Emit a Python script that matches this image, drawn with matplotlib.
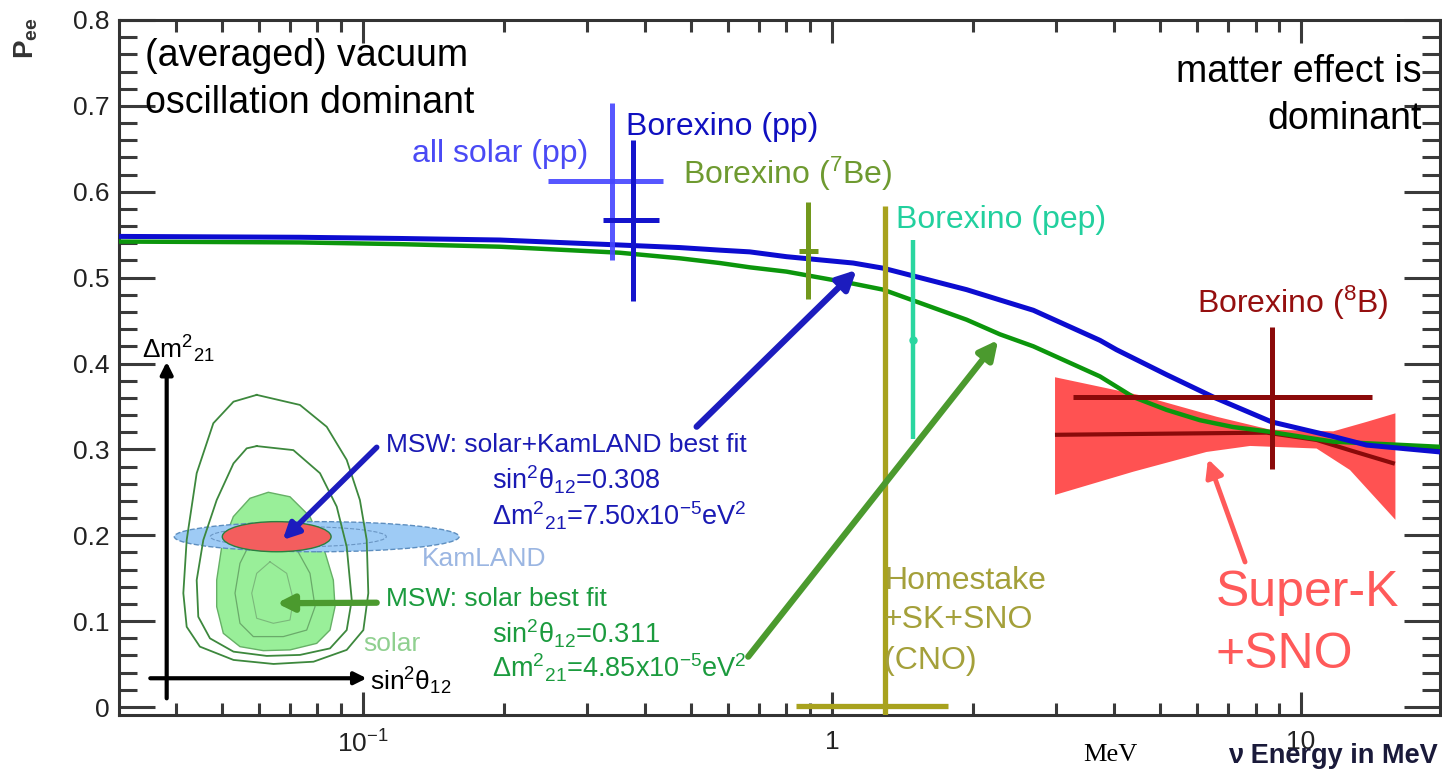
import numpy as np
import matplotlib
matplotlib.use('Agg')
import matplotlib.pyplot as plt
from matplotlib.patches import Ellipse
from matplotlib.ticker import LogLocator, MultipleLocator, NullFormatter

plt.rcParams['font.family'] = ['Liberation Sans', 'DejaVu Sans']
plt.rcParams['mathtext.fontset'] = 'custom'
plt.rcParams['mathtext.rm'] = 'Liberation Sans'
plt.rcParams['mathtext.it'] = 'Liberation Sans:italic'
plt.rcParams['mathtext.bf'] = 'Liberation Sans:bold'
plt.rcParams['mathtext.default'] = 'regular'

W, H = 1442, 779

# MSW curves, energy in MeV vs P_ee
E_KAM = [0.0302, 0.0734, 0.12, 0.196, 0.353, 0.474, 0.577, 0.668, 0.8, 1.11, 1.286,
         1.937, 2.281, 2.688, 3.727, 4.045, 5.17, 6.50, 8.66, 11.72, 13.8, 19.8]
P_KAM = [0.548, 0.547, 0.5456, 0.5438, 0.538, 0.535, 0.532, 0.530, 0.5244, 0.517, 0.511,
         0.486, 0.474, 0.462, 0.427, 0.416, 0.387, 0.361, 0.332, 0.315, 0.305, 0.297]
E_SOL = [0.0302, 0.0734, 0.12, 0.196, 0.353, 0.474, 0.577, 0.668, 0.8, 1.11, 1.286,
         1.937, 2.281, 2.688, 3.727, 4.39, 5.17, 6.09, 7.17, 8.45, 11.72, 19.8]
P_SOL = [0.542, 0.541, 0.539, 0.536, 0.529, 0.5225, 0.517, 0.512, 0.507, 0.493, 0.486,
         0.451, 0.434, 0.420, 0.385, 0.361, 0.346, 0.334, 0.326, 0.321, 0.309, 0.303]

# measurements: [low, centre, high]
ALLSOLAR_E = [0.248, 0.340, 0.436]
ALLSOLAR_P = [0.520, 0.612, 0.703]
BXPP_E = [0.325, 0.377, 0.427]
BXPP_P = [0.473, 0.567, 0.660]
BX7BE_E = [0.850, 0.889, 0.932]
BX7BE_P = [0.475, 0.531, 0.588]
HOME_E = [0.838, 1.297, 1.770]
HOME_P = [-0.02, 0.001, 0.583]
PEP_E = [1.486, 1.486, 1.486]
PEP_P = [0.312, 0.427, 0.544]
B8_E = [3.26, 8.66, 14.15]
B8_P = [0.277, 0.361, 0.443]

# Super-K + SNO band
SK_UP_E = [2.99, 4.54, 6.61, 8.59, 11.72, 13.8, 15.9]
SK_UP_P = [0.384, 0.363, 0.338, 0.323, 0.321, 0.332, 0.342]
SK_LO_E = [2.99, 4.39, 6.29, 7.79, 10.8, 12.72, 15.9]
SK_LO_P = [0.247, 0.274, 0.297, 0.304, 0.301, 0.276, 0.218]
SK_MID_E = [3.02, 8.45, 10.8, 12.72, 15.7]
SK_MID_P = [0.317, 0.3195, 0.311, 0.299, 0.284]

Y_TICKS = [0, 0.1, 0.2, 0.3, 0.4, 0.5, 0.6, 0.7, 0.8]
Y_LABELS = ['0', '0.1', '0.2', '0.3', '0.4', '0.5', '0.6', '0.7', '0.8']
X_TICKS = [0.1, 1, 10]
X_LABELS = ['10$^{-1}$', '1', '10']

# inset: sin^2 theta12 vs dm^2_21 (1e-5 eV^2)
OUT_S = [0.283, 0.337, 0.3705, 0.3955, 0.412, 0.4205, 0.4225, 0.4163, 0.3955, 0.354,
         0.304, 0.254, 0.212, 0.1955, 0.1913, 0.1955, 0.208, 0.2288, 0.254]
OUT_D = [13.15, 12.75, 11.88, 10.56, 8.96, 7.37, 5.25, 3.78, 2.99, 2.52,
         2.43, 2.59, 3.12, 3.91, 5.25, 7.37, 10.03, 12.02, 12.88]
MID_S = [0.283, 0.3288, 0.3621, 0.383, 0.3955, 0.4018, 0.3955, 0.3746, 0.3371, 0.2955,
         0.254, 0.2246, 0.210, 0.208, 0.2163, 0.233, 0.254, 0.2705]
MID_D = [11.11, 10.95, 10.03, 8.70, 7.10, 4.98, 3.78, 3.05, 2.79, 2.75,
         2.92, 3.45, 4.31, 5.77, 7.37, 8.96, 10.42, 11.02]
FILL_S = [0.2975, 0.3246, 0.3496, 0.3663, 0.3788, 0.3809, 0.3746, 0.358, 0.3246,
          0.2913, 0.2621, 0.2413, 0.233, 0.233, 0.2393, 0.2538, 0.2746]
FILL_D = [9.27, 9.09, 8.30, 7.10, 5.77, 4.71, 3.78, 3.25, 2.99,
          2.96, 3.12, 3.65, 4.71, 5.77, 7.10, 8.30, 9.03]
IN1_S = [0.2913, 0.3288, 0.3496, 0.3559, 0.3455, 0.3163, 0.2788, 0.2621, 0.2559, 0.2621, 0.2746]
IN1_D = [7.64, 7.24, 6.04, 4.71, 3.78, 3.52, 3.52, 4.05, 5.25, 6.44, 7.24]
IN2_S = [0.2996, 0.3205, 0.3288, 0.3246, 0.3038, 0.283, 0.2768, 0.283]
IN2_D = [6.50, 6.04, 4.98, 4.18, 4.05, 4.25, 5.25, 6.04]
KAM_FIT = (0.358, 7.5, 0.356, 1.2)
RED_FIT = (0.308, 7.5, 0.136, 1.2)


def px(x, y):
    return x / W, 1 - y / H


def cross(ax, E, P, color, lw, ms=0, alpha=1.0):
    ax.errorbar([E[1]], [P[1]],
                xerr=[[E[1] - E[0]], [E[2] - E[1]]],
                yerr=[[P[1] - P[0]], [P[2] - P[1]]],
                fmt='o' if ms else 'none', ms=ms, color=color, ecolor=color,
                elinewidth=lw, capsize=0, alpha=alpha, zorder=4)


fig = plt.figure(figsize=(W / 100, H / 100), dpi=100)
ax = fig.add_axes([119 / W, 1 - 715 / H, 1321 / W, 695 / H])
ax.set_xscale('log')
ax.set_xlim(0.0302, 19.79)
ax.set_ylim(-0.0093, 0.8)

# Super-K + SNO band
ax.fill(SK_UP_E + SK_LO_E[::-1], SK_UP_P + SK_LO_P[::-1], color='#ff5252', lw=0, zorder=1)
ax.plot(SK_MID_E, SK_MID_P, color='#8a0a0a', lw=3, zorder=2)

ax.plot(E_SOL, P_SOL, color='#0c960c', lw=3.2, zorder=3, solid_joinstyle='round')
ax.plot(E_KAM, P_KAM, color='#0c0cd0', lw=3.6, zorder=3, solid_joinstyle='round')

cross(ax, ALLSOLAR_E, ALLSOLAR_P, '#4545ff', 3.6, alpha=0.9)
cross(ax, BXPP_E, BXPP_P, '#1414cc', 3.6)
cross(ax, BX7BE_E, BX7BE_P, '#72981c', 3.6)
cross(ax, HOME_E, HOME_P, '#a8a21e', 3.8)
cross(ax, PEP_E, PEP_P, '#2ad6a0', 3.2, ms=5)
cross(ax, B8_E, B8_P, '#8b0a0a', 3.6, ms=4)

# arrows
ax.annotate('', xy=(1.129, 0.509), xytext=(0.5147, 0.3264),
            arrowprops=dict(arrowstyle='-|>', color='#1c1cbe', lw=4.5,
                            mutation_scale=28, shrinkA=0, shrinkB=0), zorder=5)
ax.annotate('', xy=(2.262, 0.4274), xytext=(0.663, 0.0586),
            arrowprops=dict(arrowstyle='-|>', color='#4b9a2e', lw=4.5,
                            mutation_scale=28, shrinkA=0, shrinkB=0), zorder=5)
ax.annotate('', xy=(6.335, 0.2888), xytext=(7.60, 0.1689),
            arrowprops=dict(arrowstyle='-|>', color='#ff5a5a', lw=3.5,
                            mutation_scale=26, shrinkA=0, shrinkB=0), zorder=5)

# axes styling
ax.set_xticks(X_TICKS, labels=X_LABELS)
ax.xaxis.set_minor_locator(LogLocator(base=10, subs=np.arange(2, 10)))
ax.xaxis.set_minor_formatter(NullFormatter())
ax.set_yticks(Y_TICKS, labels=Y_LABELS)
ax.yaxis.set_minor_locator(MultipleLocator(0.02))
ax.tick_params(which='both', direction='in', top=True, right=True,
               color='#3a3a3a', width=2.2, labelsize=19, labelcolor='#222222')
ax.tick_params(axis='y', which='major', length=26, pad=7)
ax.tick_params(axis='y', which='minor', length=13)
ax.tick_params(axis='x', which='major', length=16.5, pad=11)
ax.tick_params(axis='x', which='minor', length=8.5)
for s in ax.spines.values():
    s.set_linewidth(2.2)
    s.set_color('#333333')

# inset sketch
ax_in = fig.add_axes([119 / W, 1 - 707 / H, 351 / W, 377 / H])
ax_in.set_xlim(0.1109, 0.5496)
ax_in.set_ylim(0.715, 15.735)
ax_in.axis('off')
ax_in.fill(FILL_S, FILL_D, color='#99ef99', lw=1, ec='#66b066', zorder=1)
ax_in.plot(IN1_S + IN1_S[:1], IN1_D + IN1_D[:1], color='#6aaa6a', lw=0.9, zorder=2)
ax_in.plot(IN2_S + IN2_S[:1], IN2_D + IN2_D[:1], color='#7bb87b', lw=0.8, zorder=2)
ax_in.add_patch(Ellipse(KAM_FIT[:2], KAM_FIT[2], KAM_FIT[3], fc='#9ecbf5', ec='#5d8ebf',
                        ls='--', lw=1.0, zorder=3))
ax_in.add_patch(Ellipse((0.335, 7.5), 0.22, 0.8, fc='none', ec='#6a96c4', ls='--', lw=0.8, zorder=3))
ax_in.plot(OUT_S + OUT_S[:1], OUT_D + OUT_D[:1], color='#3d883d', lw=1.3, zorder=4,
           solid_joinstyle='round')
ax_in.plot(MID_S + MID_S[:1], MID_D + MID_D[:1], color='#3d883d', lw=1.3, zorder=4,
           solid_joinstyle='round')
ax_in.add_patch(Ellipse(RED_FIT[:2], RED_FIT[2], RED_FIT[3], fc='#f35e5e', ec='#2a8040',
                        lw=1.0, zorder=5))
ax_in.annotate('', xy=(0.1705, 14.47), xytext=(0.1705, 1.06),
               arrowprops=dict(arrowstyle='-|>', color='black', lw=3, mutation_scale=18,
                               shrinkA=0, shrinkB=0))
ax_in.annotate('', xy=(0.4205, 1.86), xytext=(0.150, 1.86),
               arrowprops=dict(arrowstyle='-|>', color='black', lw=3, mutation_scale=18,
                               shrinkA=0, shrinkB=0))
ax_in.annotate('', xy=(0.3155, 7.37), xytext=(0.433, 11.06),
               arrowprops=dict(arrowstyle='-|>', color='#1c1cbe', lw=4, mutation_scale=24,
                               shrinkA=0, shrinkB=0), zorder=6)
ax_in.annotate('', xy=(0.308, 4.85), xytext=(0.433, 4.87),
               arrowprops=dict(arrowstyle='-|>', color='#4b9a2e', lw=4.5, mutation_scale=24,
                               shrinkA=0, shrinkB=0), zorder=6)

# labels
def label(x, y, s, color='black', size=23, ha='left', **kw):
    fig.text(*px(x, y), s, color=color, fontsize=size, ha=ha, va='baseline', **kw)

label(145, 66, '(averaged) vacuum', size=27)
label(145, 113, 'oscillation dominant', size=27)
label(1422, 82, 'matter effect is', size=27, ha='right')
label(1422, 129, 'dominant', size=27, ha='right')
label(412, 162, 'all solar (pp)', '#4a4af5')
label(626, 135, 'Borexino (pp)', '#1010c0')
label(683, 184, 'Borexino ($^7$Be)', '#6e9a30')
label(896, 228, 'Borexino (pep)', '#22d09e')
label(1197, 313, 'Borexino ($^8$B)', '#950f0f')
label(884, 589, 'Homestake', '#a4a03a')
label(884, 628, '+SK+SNO', '#a4a03a')
label(884, 669, '(CNO)', '#a4a03a')
label(1216, 606, 'Super-K', '#ff5a5a', size=36)
label(1216, 668, '+SNO', '#ff5a5a', size=36)
label(386, 452, 'MSW: solar+KamLAND best fit', '#1a1ab4', size=19)
label(492, 490, 'sin$^2$θ$_{12}$=0.308', '#1a1ab4', size=19.5)
label(492, 526, 'Δm$^2$$_{21}$=7.50x10$^{-5}$eV$^2$', '#1a1ab4', size=19.5)
label(422, 566, 'KamLAND', '#9bb6e2', size=19)
label(386, 606, 'MSW: solar best fit', '#1b9b3e', size=19)
label(492, 643, 'sin$^2$θ$_{12}$=0.311', '#1b9b3e', size=19.5)
label(492, 678, 'Δm$^2$$_{21}$=4.85x10$^{-5}$eV$^2$', '#1b9b3e', size=19.5)
label(363, 651, 'solar', '#90d090', size=19)
label(142, 358, 'Δm$^2$$_{21}$', size=19)
label(370, 690, 'sin$^2$θ$_{12}$', size=19)
label(1083, 761, 'MeV', size=19, family='Liberation Serif')
label(1228, 763, 'ν Energy in MeV', '#1a1a3a', size=19.5, fontweight='bold')
fig.text(*px(26, 38), 'P$_{ee}$', rotation=90, ha='center', va='center',
         fontsize=20, fontweight='bold', color='#333333')

fig.savefig('out.png', dpi=100)
